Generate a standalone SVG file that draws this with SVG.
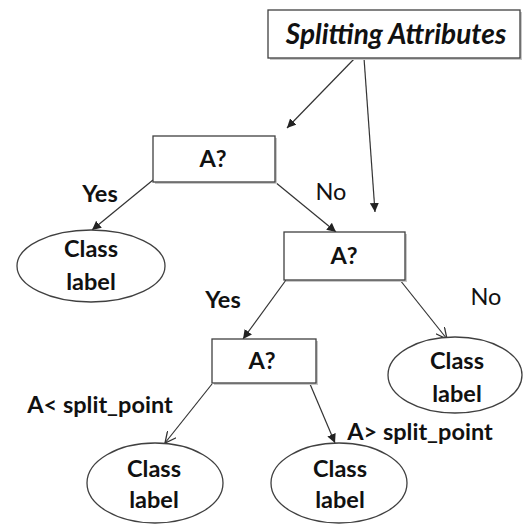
<svg xmlns="http://www.w3.org/2000/svg" width="524" height="524" viewBox="0 0 524 524">
<defs>
<style>
.box{fill:#fff;stroke:#404040;stroke-width:1.3}
.shadow{fill:#c8c8c8}
.ell{fill:#fff;stroke:#404040;stroke-width:1.3}
.t{font-family:Lato,"Open Sans",sans-serif;font-size:23.5px;fill:#111;text-anchor:middle}
.b{font-weight:bold}
.title{font-size:28px;font-style:italic}
.edge{stroke:#333;stroke-width:1.2;fill:none}
</style>
<marker id="fa" viewBox="0 0 10 10" refX="10" refY="5" markerWidth="9" markerHeight="9" markerUnits="userSpaceOnUse" orient="auto">
<path d="M0,0 L10,5 L0,10 z" fill="#222"/>
</marker>
<marker id="oa" viewBox="0 0 10 10" refX="10" refY="5" markerWidth="11" markerHeight="11" markerUnits="userSpaceOnUse" orient="auto">
<path d="M0,0 L10,5 L0,10" fill="none" stroke="#333" stroke-width="1.2"/>
</marker>
</defs>
<rect width="524" height="524" fill="#fff"/>
<g id="connectors">
<line class="edge" x1="355" y1="58" x2="287" y2="128" marker-end="url(#fa)"/>
<line class="edge" x1="364" y1="58" x2="375" y2="212" marker-end="url(#fa)"/>
<line class="edge" x1="153" y1="180" x2="92" y2="230" marker-end="url(#fa)"/>
<line class="edge" x1="275" y1="182" x2="336" y2="232" marker-end="url(#fa)"/>
<line class="edge" x1="400" y1="280" x2="447" y2="339" marker-end="url(#oa)"/>
<line class="edge" x1="286" y1="280" x2="243" y2="339" marker-end="url(#fa)"/>
<line class="edge" x1="212" y1="384" x2="165" y2="443" marker-end="url(#oa)"/>
<line class="edge" x1="310" y1="384" x2="335" y2="443" marker-end="url(#fa)"/>
</g>
<g id="root">
<rect class="shadow" x="270" y="12" width="252" height="48"/>
<rect class="box" x="268" y="10" width="252" height="48"/>
<text class="t b title" x="396" y="44">Splitting Attributes</text>
</g>
<g id="a1">
<rect class="shadow" x="155" y="138" width="122" height="46"/>
<rect class="box" x="153" y="136" width="122" height="46"/>
<text class="t b" x="213" y="167">A?</text>
</g>
<g id="c1">
<ellipse class="ell" cx="91" cy="266" rx="74" ry="36"/>
<text class="t b" x="91" y="257">Class</text>
<text class="t b" x="91" y="290">label</text>
</g>
<g id="a2">
<rect class="shadow" x="286" y="234" width="121" height="48"/>
<rect class="box" x="284" y="232" width="121" height="48"/>
<text class="t b" x="344" y="264">A?</text>
</g>
<g id="c2">
<ellipse class="ell" cx="455" cy="375" rx="67" ry="38"/>
<text class="t b" x="457" y="369">Class</text>
<text class="t b" x="457" y="402">label</text>
</g>
<g id="a3">
<rect class="shadow" x="214" y="341" width="104" height="44"/>
<rect class="box" x="212" y="339" width="104" height="44"/>
<text class="t b" x="262" y="369">A?</text>
</g>
<g id="c3">
<ellipse class="ell" cx="155" cy="483" rx="68" ry="40"/>
<text class="t b" x="154" y="477">Class</text>
<text class="t b" x="154" y="508">label</text>
</g>
<g id="c4">
<ellipse class="ell" cx="339" cy="483" rx="68" ry="40"/>
<text class="t b" x="340" y="477">Class</text>
<text class="t b" x="340" y="508">label</text>
</g>
<g id="labels">
<text class="t b" x="100" y="202">Yes</text>
<text class="t" x="331" y="200">No</text>
<text class="t" x="486" y="305">No</text>
<text class="t b" x="223" y="308">Yes</text>
<text class="t b" x="100" y="413">A&lt; split_point</text>
<text class="t b" x="420" y="440">A&gt; split_point</text>
</g>
</svg>
